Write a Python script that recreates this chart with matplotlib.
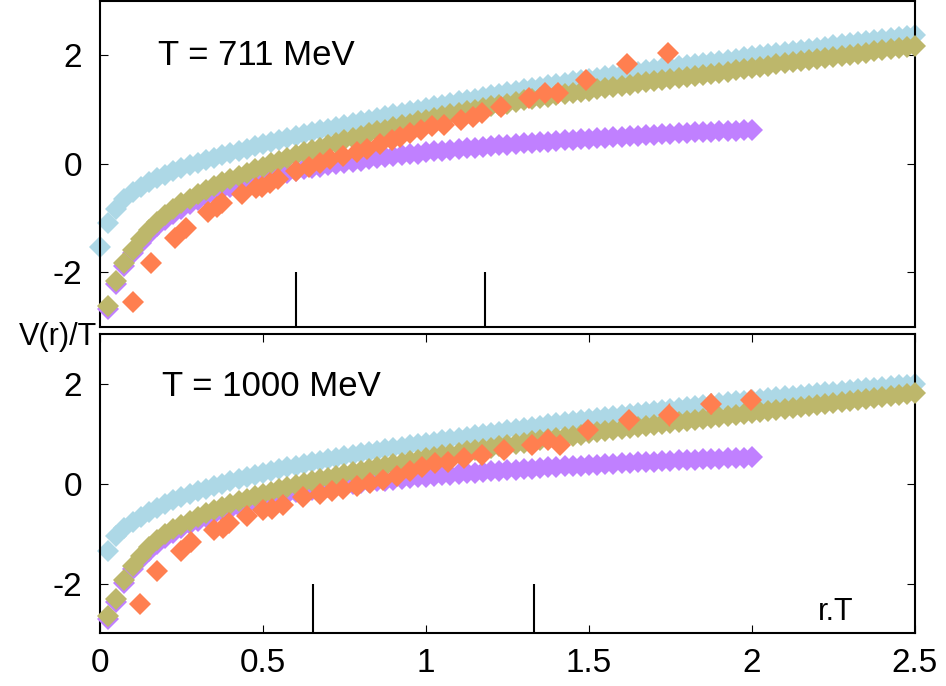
import matplotlib
matplotlib.use('Agg')
import matplotlib.pyplot as plt
import numpy as np

plt.rcParams['font.family'] = ['Liberation Sans', 'DejaVu Sans']
plt.rcParams['axes.unicode_minus'] = False

BLUE = '#add8e6'
KHAKI = '#bdb76b'
PURPLE = '#c080ff'
CORAL = '#ff7f50'

STEP = 0.025  # spacing in r.T of the model curves

# ---- T = 711 MeV ----
# light blue curve, r.T = 0, 0.025, ... 2.5
top_blue = [
    -1.53, -1.09, -0.84, -0.65, -0.52, -0.42, -0.33, -0.26, -0.20, -0.14,
    -0.08, -0.03, 0.02, 0.07, 0.11, 0.16, 0.20, 0.24, 0.28, 0.32,
    0.36, 0.40, 0.44, 0.47, 0.51, 0.55, 0.58, 0.62, 0.65, 0.68,
    0.72, 0.75, 0.78, 0.81, 0.85, 0.88, 0.91, 0.94, 0.97, 1.00,
    1.03, 1.06, 1.09, 1.12, 1.15, 1.18, 1.20, 1.23, 1.26, 1.29,
    1.32, 1.34, 1.37, 1.40, 1.42, 1.45, 1.47, 1.49, 1.52, 1.54,
    1.56, 1.58, 1.61, 1.63, 1.65, 1.67, 1.70, 1.72, 1.74, 1.76,
    1.78, 1.80, 1.82, 1.84, 1.86, 1.88, 1.90, 1.92, 1.94, 1.96,
    1.98, 2.00, 2.02, 2.04, 2.06, 2.08, 2.10, 2.12, 2.14, 2.16,
    2.18, 2.20, 2.22, 2.24, 2.26, 2.28, 2.30, 2.32, 2.34, 2.36,
    2.38]
# khaki curve, r.T = 0.025 ... 2.5
top_khaki = [
    -2.61, -2.15, -1.82, -1.58, -1.39, -1.22, -1.07, -0.95, -0.84, -0.73,
    -0.64, -0.56, -0.48, -0.41, -0.34, -0.28, -0.22, -0.16, -0.10, -0.05,
    0.01, 0.06, 0.11, 0.16, 0.21, 0.26, 0.30, 0.35, 0.39, 0.44,
    0.48, 0.52, 0.56, 0.60, 0.63, 0.67, 0.71, 0.74, 0.78, 0.81,
    0.84, 0.88, 0.91, 0.94, 0.97, 1.00, 1.03, 1.06, 1.09, 1.11,
    1.14, 1.17, 1.19, 1.22, 1.24, 1.27, 1.29, 1.31, 1.33, 1.35,
    1.37, 1.40, 1.42, 1.44, 1.46, 1.48, 1.50, 1.52, 1.54, 1.56,
    1.58, 1.60, 1.62, 1.64, 1.66, 1.68, 1.70, 1.73, 1.75, 1.77,
    1.79, 1.81, 1.83, 1.85, 1.87, 1.89, 1.91, 1.93, 1.95, 1.97,
    1.99, 2.01, 2.03, 2.05, 2.07, 2.09, 2.11, 2.13, 2.15, 2.17]
# purple curve, r.T = 0.025 ... 2.0
top_purple = [
    -2.67, -2.22, -1.89, -1.65, -1.46, -1.30, -1.15, -1.03, -0.93, -0.83,
    -0.74, -0.66, -0.59, -0.53, -0.47, -0.42, -0.37, -0.33, -0.29, -0.25,
    -0.22, -0.19, -0.16, -0.13, -0.10, -0.08, -0.05, -0.03, -0.01, 0.02,
    0.04, 0.06, 0.08, 0.10, 0.12, 0.14, 0.16, 0.18, 0.19, 0.21,
    0.23, 0.24, 0.26, 0.27, 0.29, 0.30, 0.31, 0.33, 0.34, 0.35,
    0.36, 0.38, 0.39, 0.40, 0.41, 0.42, 0.43, 0.44, 0.45, 0.46,
    0.47, 0.48, 0.49, 0.50, 0.51, 0.52, 0.53, 0.54, 0.55, 0.55,
    0.56, 0.57, 0.58, 0.58, 0.59, 0.60, 0.60, 0.61, 0.62, 0.62]
# lattice points
top_rt = [0.102, 0.158, 0.230, 0.263, 0.332, 0.358, 0.374, 0.435, 0.480, 0.496,
          0.520, 0.547, 0.600, 0.640, 0.675, 0.706, 0.746, 0.787, 0.818, 0.859,
          0.895, 0.920, 0.952, 0.984, 1.017, 1.054, 1.107, 1.145, 1.171, 1.230,
          1.316, 1.364, 1.406, 1.490, 1.618, 1.743]
top_v = [-2.55, -1.83, -1.36, -1.18, -0.88, -0.79, -0.72, -0.56, -0.45, -0.42,
         -0.36, -0.28, -0.14, -0.06, 0.02, 0.08, 0.15, 0.22, 0.28, 0.36,
         0.43, 0.50, 0.56, 0.63, 0.69, 0.72, 0.81, 0.87, 0.93, 1.05,
         1.21, 1.31, 1.31, 1.55, 1.83, 2.05]
top_marks = [0.601, 1.181]

# ---- T = 1000 MeV ----
# all curves start at r.T = 0.025
bot_blue = [
    -1.35, -1.04, -0.89, -0.77, -0.66, -0.56, -0.48, -0.40, -0.33, -0.27,
    -0.21, -0.15, -0.10, -0.05, 0.00, 0.05, 0.09, 0.14, 0.18, 0.22,
    0.26, 0.29, 0.33, 0.36, 0.40, 0.43, 0.46, 0.49, 0.52, 0.55,
    0.58, 0.61, 0.64, 0.66, 0.69, 0.72, 0.74, 0.77, 0.79, 0.82,
    0.84, 0.87, 0.89, 0.92, 0.94, 0.97, 0.99, 1.02, 1.04, 1.07,
    1.09, 1.12, 1.14, 1.16, 1.19, 1.21, 1.23, 1.25, 1.28, 1.30,
    1.32, 1.34, 1.36, 1.38, 1.40, 1.42, 1.44, 1.46, 1.48, 1.50,
    1.52, 1.54, 1.56, 1.57, 1.59, 1.61, 1.63, 1.65, 1.66, 1.68,
    1.70, 1.71, 1.73, 1.75, 1.76, 1.78, 1.80, 1.81, 1.83, 1.84,
    1.86, 1.88, 1.89, 1.91, 1.92, 1.94, 1.95, 1.97, 1.98, 2.00]
bot_khaki = [
    -2.65, -2.30, -1.93, -1.64, -1.44, -1.27, -1.13, -1.01, -0.91, -0.82,
    -0.74, -0.66, -0.59, -0.52, -0.46, -0.40, -0.35, -0.30, -0.25, -0.20,
    -0.16, -0.11, -0.07, -0.03, 0.01, 0.05, 0.09, 0.12, 0.16, 0.19,
    0.23, 0.26, 0.29, 0.33, 0.36, 0.39, 0.42, 0.45, 0.48, 0.51,
    0.54, 0.57, 0.59, 0.62, 0.65, 0.67, 0.70, 0.72, 0.75, 0.77,
    0.80, 0.82, 0.85, 0.87, 0.89, 0.92, 0.94, 0.96, 0.98, 1.01,
    1.03, 1.05, 1.07, 1.09, 1.11, 1.13, 1.15, 1.17, 1.19, 1.21,
    1.23, 1.25, 1.27, 1.29, 1.31, 1.33, 1.35, 1.37, 1.39, 1.41,
    1.43, 1.45, 1.47, 1.49, 1.51, 1.53, 1.55, 1.57, 1.59, 1.61,
    1.63, 1.65, 1.67, 1.69, 1.71, 1.73, 1.75, 1.77, 1.79, 1.81]
bot_purple = [
    -2.70, -2.36, -1.99, -1.71, -1.51, -1.34, -1.20, -1.08, -0.98, -0.89,
    -0.81, -0.74, -0.67, -0.61, -0.55, -0.50, -0.45, -0.40, -0.36, -0.32,
    -0.28, -0.24, -0.21, -0.17, -0.15, -0.12, -0.10, -0.07, -0.05, -0.03,
    -0.01, 0.01, 0.03, 0.05, 0.06, 0.08, 0.10, 0.11, 0.13, 0.14,
    0.15, 0.17, 0.18, 0.19, 0.21, 0.22, 0.23, 0.25, 0.26, 0.27,
    0.28, 0.29, 0.30, 0.31, 0.33, 0.34, 0.35, 0.36, 0.36, 0.37,
    0.38, 0.39, 0.40, 0.41, 0.42, 0.43, 0.43, 0.44, 0.45, 0.46,
    0.47, 0.47, 0.48, 0.49, 0.50, 0.50, 0.51, 0.52, 0.52, 0.53]
bot_rt = [0.123, 0.176, 0.247, 0.278, 0.350, 0.376, 0.397, 0.450, 0.499, 0.527,
          0.560, 0.624, 0.675, 0.711, 0.746, 0.787, 0.828, 0.869, 0.910, 0.950,
          0.989, 1.027, 1.069, 1.117, 1.171, 1.240, 1.326, 1.374, 1.410, 1.496,
          1.622, 1.747, 1.873, 1.998]
bot_v = [-2.40, -1.74, -1.34, -1.17, -0.92, -0.89, -0.79, -0.65, -0.53, -0.50,
         -0.42, -0.27, -0.20, -0.15, -0.11, -0.04, 0.02, 0.08, 0.16, 0.25,
         0.34, 0.41, 0.43, 0.51, 0.58, 0.68, 0.78, 0.88, 0.78, 1.08,
         1.27, 1.38, 1.60, 1.67]
bot_err = [0.02, 0.02, 0.02, 0.02, 0.02, 0.02, 0.02, 0.02, 0.02, 0.02,
           0.02, 0.02, 0.02, 0.02, 0.02, 0.02, 0.02, 0.02, 0.02, 0.02,
           0.02, 0.02, 0.02, 0.02, 0.03, 0.03, 0.04, 0.05, 0.17, 0.05,
           0.17, 0.23, 0.21, 0.05]
bot_marks = [0.653, 1.331]

fig = plt.figure(figsize=(9.46, 6.86), dpi=100)
ax1 = fig.add_axes([0.1057, 0.5238, 0.8615, 0.4748])
ax2 = fig.add_axes([0.1057, 0.0773, 0.8615, 0.4359])

MS = 11


def curve(ax, start, vals, color, z):
    r = start + STEP * np.arange(len(vals))
    ax.plot(r, vals, 'D', ms=MS, mew=0, color=color, clip_on=False, zorder=z)


def style(ax, ylo, yhi):
    ax.set_xlim(0, 2.5)
    ax.set_ylim(ylo, yhi)
    ax.set_yticks([-2, 0, 2])
    ax.set_yticklabels(['-2', '0', '2'])
    for s in ax.spines.values():
        s.set_linewidth(1.5)
    ax.tick_params(axis='y', direction='in', length=6, width=0.8,
                   left=True, right=True, labelsize=24, pad=13)


# top panel
curve(ax1, 0.0, top_blue, BLUE, 2)
curve(ax1, STEP, top_purple, PURPLE, 3)
curve(ax1, STEP, top_khaki, KHAKI, 4)
ax1.plot(top_rt, top_v, 'D', ms=MS, mew=0, color=CORAL, zorder=5)
style(ax1, -3, 3)
ax1.vlines(top_marks, -3, -2, color='black', lw=1.5, zorder=6)
ax1.tick_params(axis='x', bottom=False, top=False, labelbottom=False)
ax1.text(0.178, 1.82, 'T = 711 MeV', fontsize=25, ha='left', va='baseline')

# bottom panel
curve(ax2, STEP, bot_blue, BLUE, 2)
curve(ax2, STEP, bot_purple, PURPLE, 3)
curve(ax2, STEP, bot_khaki, KHAKI, 4)
ax2.errorbar(bot_rt, bot_v, yerr=bot_err, fmt='D', ms=MS, mew=0, color=CORAL,
             ecolor=CORAL, elinewidth=1, capsize=3, zorder=5)
style(ax2, -2.98, 3.0)
ax2.vlines(bot_marks, -2.98, -2, color='black', lw=1.5, zorder=6)
ax2.set_xticks([0, 0.5, 1, 1.5, 2, 2.5])
ax2.set_xticklabels(['0', '0.5', '1', '1.5', '2', '2.5'])
ax2.tick_params(axis='x', direction='in', length=6, width=0.8,
                bottom=True, top=True, labelsize=24, pad=11)
ax2.text(0.19, 1.76, 'T = 1000 MeV', fontsize=25, ha='left', va='baseline')
ax2.text(2.202, -2.73, 'r.T', fontsize=22, ha='left', va='baseline')

fig.text(97 / 946, 0.497, 'V(r)/T', fontsize=22, ha='right', va='baseline')

fig.savefig('out.png', dpi=100)
